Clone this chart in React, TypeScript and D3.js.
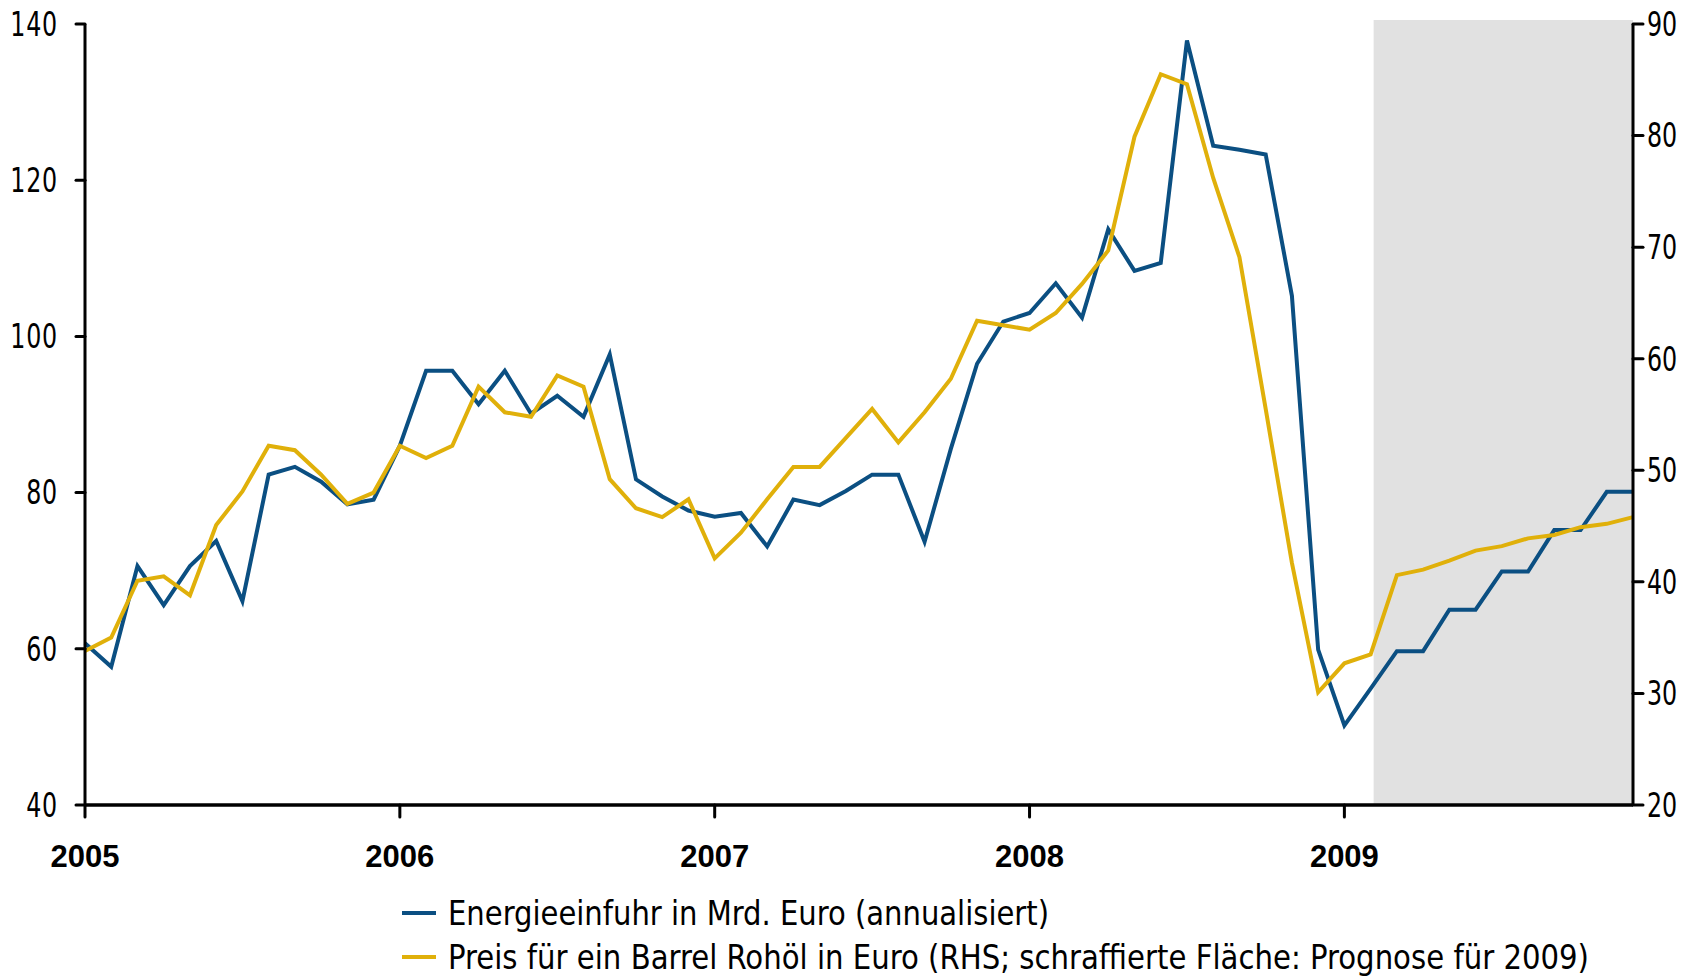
import React from 'react';
import * as d3 from 'd3';

// Monatswerte Jan 2005 .. Dez 2009 (ab Feb 2009 Prognose)
const years = ['2005', '2006', '2007', '2008', '2009'];
const leftTicks = [40, 60, 80, 100, 120, 140];
const rightTicks = [20, 30, 40, 50, 60, 70, 80, 90];

// Energieeinfuhr in Mrd. Euro (linke Achse)
const energieImport = [
  60.7, 57.7, 70.6, 65.6, 70.6, 73.8, 66.1, 82.3, 83.3, 81.4, 78.5, 79.1,
  86.0, 95.6, 95.6, 91.3, 95.6, 90.1, 92.4, 89.7, 97.7, 81.7, 79.5, 77.7,
  76.9, 77.4, 73.1, 79.1, 78.4, 80.2, 82.3, 82.3, 73.7, 85.6, 96.5, 101.9,
  103.0, 106.8, 102.4, 113.7, 108.4, 109.4, 137.9, 124.4, 123.9, 123.3, 105.2, 59.9,
  50.2, 54.9, 59.7, 59.7, 65.0, 65.0, 69.9, 69.9, 75.2, 75.2, 80.1, 80.1,
];

// Preis für ein Barrel Rohöl in Euro (rechte Achse)
const oelpreis = [
  33.8, 35.0, 40.1, 40.5, 38.8, 45.1, 48.1, 52.2, 51.8, 49.6, 47.0, 48.0,
  52.2, 51.1, 52.2, 57.5, 55.2, 54.8, 58.5, 57.5, 49.2, 46.6, 45.8, 47.4,
  42.1, 44.4, 47.4, 50.3, 50.3, 52.9, 55.5, 52.5, 55.2, 58.2, 63.4, 63.0,
  62.6, 64.1, 66.7, 69.7, 79.9, 85.5, 84.6, 76.2, 69.1, 55.5, 41.7, 30.1,
  32.7, 33.5, 40.6, 41.1, 41.9, 42.8, 43.2, 43.9, 44.2, 44.9, 45.2, 45.8,
];

const prognoseStart = 49; // Feb 2009

const legendItems = [
  'Energieeinfuhr in Mrd. Euro (annualisiert)',
  'Preis für ein Barrel Rohöl in Euro (RHS; schraffierte Fläche: Prognose für 2009)',
];

const BLUE = '#0b4f82';
const GOLD = '#e0b00a';

export default function App() {
  const width = 1704, height = 978;
  const margin = { top: 24, right: 71, bottom: 173, left: 85 };

  const x = d3.scaleLinear().domain([0, 59]).range([margin.left, width - margin.right]);
  const yL = d3.scaleLinear().domain([40, 140]).range([height - margin.bottom, margin.top]);
  const yR = d3.scaleLinear().domain([20, 90]).range([height - margin.bottom, margin.top]);

  const lineL = d3.line<number>().x((d, i) => x(i)).y(d => yL(d));
  const lineR = d3.line<number>().x((d, i) => x(i)).y(d => yR(d));

  const x0 = x(0), x1 = x(59), yBottom = yL(40), yTop = yL(140);
  const tickFont = '"DejaVu Sans Condensed", "DejaVu Sans", sans-serif';

  return (
    <svg width={width} height={height} style={{ position: 'absolute', left: 0, top: 0, background: '#fff' }}>
      {/* Prognose-Fläche */}
      <rect x={x(prognoseStart) + 3} y={yTop - 4} width={x1 - x(prognoseStart) - 3} height={yBottom - yTop + 4} fill="#e1e1e1" />

      <path d={lineL(energieImport) || ''} fill="none" stroke={BLUE} strokeWidth={4} strokeLinejoin="miter" />
      <path d={lineR(oelpreis) || ''} fill="none" stroke={GOLD} strokeWidth={4} strokeLinejoin="miter" />

      {/* Achsen */}
      <line x1={x0} x2={x0} y1={yTop} y2={yBottom} stroke="#000" strokeWidth={3} />
      <line x1={x1} x2={x1} y1={yTop} y2={yBottom} stroke="#000" strokeWidth={3} />
      <line x1={x0} x2={x1} y1={yBottom} y2={yBottom} stroke="#000" strokeWidth={3.5} />

      {leftTicks.map(t => (
        <g key={'l' + t}>
          <line x1={x0 - 9} x2={x0} y1={yL(t)} y2={yL(t)} stroke="#000" strokeWidth={3} strokeLinecap="round" />
          <g transform={`translate(${x0 - 27},${yL(t)}) scale(0.8,1)`}>
            <text dy="0.36em" textAnchor="end" fontFamily={tickFont} fontSize={33} letterSpacing={1}>{t}</text>
          </g>
        </g>
      ))}
      {rightTicks.map(t => (
        <g key={'r' + t}>
          <line x1={x1} x2={x1 + 10} y1={yR(t)} y2={yR(t)} stroke="#000" strokeWidth={3} strokeLinecap="round" />
          <g transform={`translate(${x1 + 14},${yR(t)}) scale(0.8,1)`}>
            <text dy="0.36em" textAnchor="start" fontFamily={tickFont} fontSize={33}>{t}</text>
          </g>
        </g>
      ))}
      {years.map((yr, i) => (
        <g key={yr}>
          <line x1={x(i * 12)} x2={x(i * 12)} y1={yBottom} y2={yBottom + 12} stroke="#000" strokeWidth={3} strokeLinecap="round" />
          <text x={x(i * 12)} y={yBottom + 62} textAnchor="middle" fontFamily="Arial, 'Liberation Sans', sans-serif" fontWeight="bold" fontSize={31}>{yr}</text>
        </g>
      ))}

      {/* Legende */}
      {legendItems.map((label, i) => (
        <g key={label} transform={`translate(402, ${913 + i * 44})`}>
          <line x1={0} x2={34} y1={0} y2={0} stroke={i === 0 ? BLUE : GOLD} strokeWidth={4} />
          <text x={46} y={0} dy="0.36em" fontFamily={tickFont} fontSize={33}
            textLength={i === 0 ? 601 : 1141} lengthAdjust="spacingAndGlyphs">{label}</text>
        </g>
      ))}
    </svg>
  );
}
